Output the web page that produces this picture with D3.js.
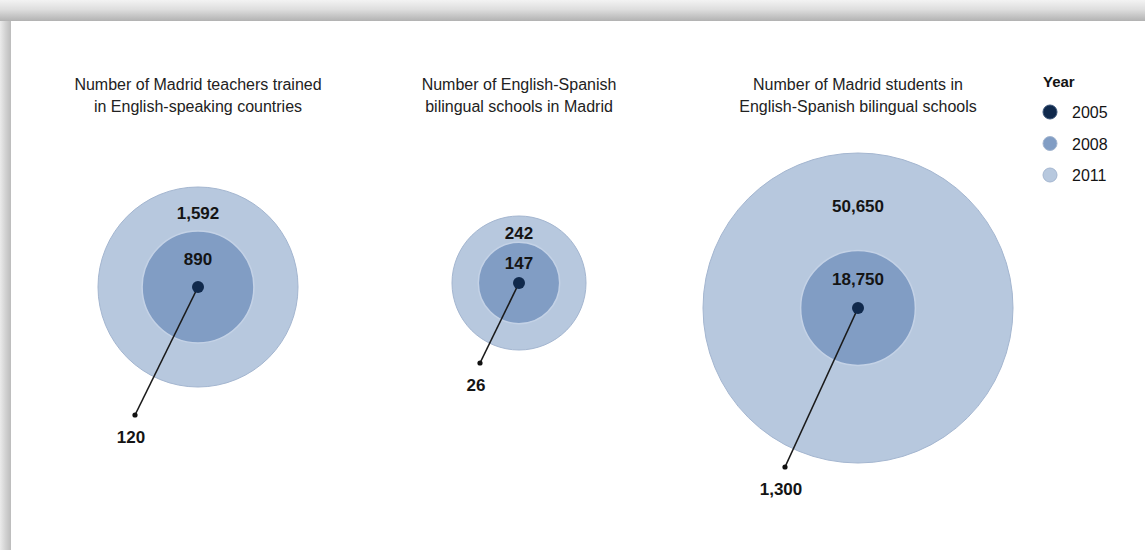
<!DOCTYPE html>
<html lang="en">
<head>
  <meta charset="UTF-8">
  <title>Bilingual education in Madrid</title>
  <script src="https://d3js.org/d3.v7.min.js"></script>
  <style>
    body { margin: 0; background: #fff; }
    svg { display: block; font-family: "Liberation Sans", Arial, sans-serif; }
  </style>
</head>
<body>
  <svg id="chart" width="1145" height="550"></svg>

  <script>
    // Data
    const titles = [
      ["Number of Madrid teachers trained", "in English-speaking countries"],
      ["Number of English-Spanish", "bilingual schools in Madrid"],
      ["Number of Madrid students in", "English-Spanish bilingual schools"]
    ];
    const years = ["2005", "2008", "2011"];
    const values2005 = [120, 26, 1300];
    const values2008 = [890, 147, 18750];
    const values2011 = [1592, 242, 50650];

    // Layout (one entry per panel)
    const panelX = [198, 519, 858];
    const panelY = [287, 283, 308];
    const maxRadius = [100, 67, 155];
    const leaderOffset = [[-63, 128], [-39, 80], [-73, 159]];

    const colors = { "2005": "#10294c", "2008": "#819dc4", "2011": "#b7c8de" };
    const fmt = d3.format(",");

    const width = 1145, height = 550;
    const svg = d3.select("#chart");

    // card shadow along top and left edge
    const defs = svg.append("defs");
    const gTop = defs.append("linearGradient").attr("id", "shTop")
      .attr("x1", 0).attr("y1", 0).attr("x2", 0).attr("y2", 1);
    gTop.append("stop").attr("offset", "0%").attr("stop-color", "#f3f3f3");
    gTop.append("stop").attr("offset", "45%").attr("stop-color", "#dedede");
    gTop.append("stop").attr("offset", "100%").attr("stop-color", "#b2b2b2");
    const gLeft = defs.append("linearGradient").attr("id", "shLeft")
      .attr("x1", 0).attr("y1", 0).attr("x2", 1).attr("y2", 0);
    gLeft.append("stop").attr("offset", "0%").attr("stop-color", "#ebebeb");
    gLeft.append("stop").attr("offset", "50%").attr("stop-color", "#d2d2d2");
    gLeft.append("stop").attr("offset", "100%").attr("stop-color", "#bcbcbc");

    svg.append("rect").attr("x", 0).attr("y", 0).attr("width", 11).attr("height", height)
      .attr("fill", "url(#shLeft)");
    svg.append("rect").attr("x", 0).attr("y", 0).attr("width", width).attr("height", 21)
      .attr("fill", "url(#shTop)");

    const panels = titles.map((t, i) => ({
      title: t,
      v2005: values2005[i],
      v2008: values2008[i],
      v2011: values2011[i],
      cx: panelX[i],
      cy: panelY[i],
      r: d3.scaleLinear().domain([0, values2011[i]]).range([0, maxRadius[i]]),
      leader: leaderOffset[i]
    }));

    const g = svg.selectAll("g.panel")
      .data(panels)
      .enter().append("g")
      .attr("class", "panel")
      .attr("transform", d => `translate(${d.cx},${d.cy})`);

    // titles (fixed near the top)
    g.append("text")
      .attr("text-anchor", "middle")
      .attr("fill", "#222")
      .style("font-size", "16px")
      .attr("y", d => 90 - d.cy)
      .selectAll("tspan")
      .data(d => d.title)
      .enter().append("tspan")
      .attr("x", 0)
      .attr("dy", (d, i) => i === 0 ? 0 : 22)
      .text(d => d);

    // 2011 outer circle
    g.append("circle")
      .attr("r", d => d.r(d.v2011))
      .attr("fill", colors["2011"])
      .attr("stroke", "#a4b6d0")
      .attr("stroke-width", 1);

    // 2008 inner circle
    g.append("circle")
      .attr("r", d => d.r(d.v2008))
      .attr("fill", colors["2008"])
      .attr("stroke", "#c4d2e6")
      .attr("stroke-width", 1.5);

    // leader line to the 2005 value
    g.append("line")
      .attr("x1", 0).attr("y1", 0)
      .attr("x2", d => d.leader[0]).attr("y2", d => d.leader[1])
      .attr("stroke", "#1a1a1a")
      .attr("stroke-width", 1.6);
    g.append("circle")
      .attr("cx", d => d.leader[0]).attr("cy", d => d.leader[1])
      .attr("r", 2.6)
      .attr("fill", "#111");

    // 2005 dot
    g.append("circle")
      .attr("r", 6)
      .attr("fill", colors["2005"]);

    // value labels
    const labelStyle = sel => sel
      .attr("text-anchor", "middle")
      .attr("fill", "#141414")
      .style("font-size", "17px")
      .style("font-weight", "bold");

    g.append("text").call(labelStyle)
      .attr("y", d => -(d.r(d.v2011) + d.r(d.v2008)) / 2 + 10)
      .text(d => fmt(d.v2011));
    g.append("text").call(labelStyle)
      .attr("y", d => -d.r(d.v2008) / 2 + 6)
      .text(d => fmt(d.v2008));
    g.append("text").call(labelStyle)
      .attr("x", d => d.leader[0] - 4)
      .attr("y", d => d.leader[1] + 28)
      .text(d => fmt(d.v2005));

    // legend
    const legend = svg.append("g").attr("transform", "translate(1043,0)");
    legend.append("text")
      .attr("x", 0).attr("y", 87)
      .attr("fill", "#141414")
      .style("font-size", "15px")
      .style("font-weight", "bold")
      .text("Year");
    const legendY = d3.scalePoint().domain(years).range([112, 175]);
    const item = legend.selectAll("g.item")
      .data(years)
      .enter().append("g")
      .attr("class", "item")
      .attr("transform", d => `translate(0,${legendY(d)})`);
    item.append("circle")
      .attr("cx", 7).attr("r", 7)
      .attr("fill", d => colors[d])
      .attr("stroke", d => d === "2005" ? "#3a5478" : "#a4b6d0")
      .attr("stroke-width", 1);
    item.append("text")
      .attr("x", 29).attr("y", 6)
      .attr("fill", "#141414")
      .style("font-size", "16px")
      .text(d => d);
  </script>
</body>
</html>
